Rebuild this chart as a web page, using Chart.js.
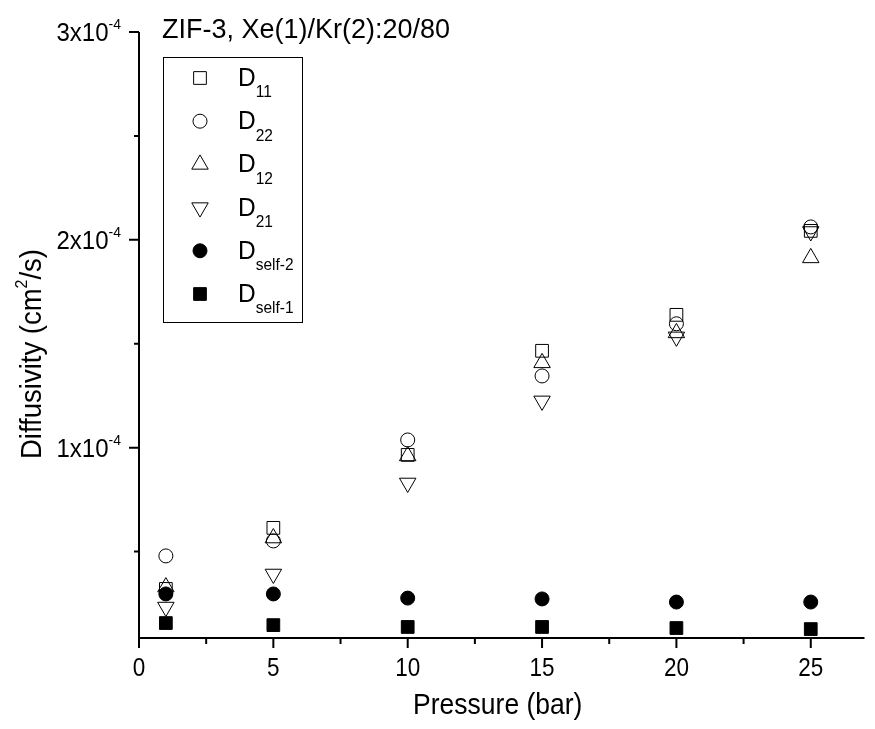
<!DOCTYPE html>
<html><head><meta charset="utf-8">
<script src="https://cdn.jsdelivr.net/npm/chart.js@4/dist/chart.umd.min.js"></script>
<style>html,body{margin:0;padding:0;background:#fff}</style></head>
<body><canvas id="c" width="875" height="729"></canvas>
<script>
// ---- data ----
const pressure = [1, 5, 10, 15, 20, 25];
const D11    = [0.320e-4, 0.614e-4, 0.965e-4, 1.466e-4, 1.639e-4, 2.043e-4];
const D22    = [0.479e-4, 0.551e-4, 1.037e-4, 1.345e-4, 1.596e-4, 2.062e-4];
const D12    = [0.329e-4, 0.565e-4, 0.960e-4, 1.408e-4, 1.552e-4, 1.913e-4];
const D21    = [0.233e-4, 0.392e-4, 0.830e-4, 1.225e-4, 1.533e-4, 2.040e-4];
const Dself2 = [0.296e-4, 0.296e-4, 0.276e-4, 0.272e-4, 0.257e-4, 0.257e-4];
const Dself1 = [0.156e-4, 0.146e-4, 0.137e-4, 0.137e-4, 0.132e-4, 0.127e-4];
const xMajor = [0, 5, 10, 15, 20, 25];
const xMinor = [2.5, 7.5, 12.5, 17.5, 22.5];
const yMajor = [1e-4, 2e-4, 3e-4];
const yMajorMant = ['1', '2', '3'];
const yMinor = [0.5e-4, 1.5e-4, 2.5e-4];
const titleText = 'ZIF-3, Xe(1)/Kr(2):20/80';
const xTitle = 'Pressure (bar)';

const FONT = '"Liberation Sans", Arial, sans-serif';
const series = [
  {name:'11', data:D11, style:'rect', r:9, rot:0, fill:false},
  {name:'22', data:D22, style:'circle', r:7, rot:0, fill:false},
  {name:'12', data:D12, style:'triangle', r:9.5, rot:0, fill:false},
  {name:'21', data:D21, style:'triangle', r:9.5, rot:180, fill:false},
  {name:'self-2', data:Dself2, style:'circle', r:7, rot:0, fill:true},
  {name:'self-1', data:Dself1, style:'rect', r:9, rot:0, fill:true}
];

function pts(arr){ return pressure.map((p,i)=>({x:p, y:arr[i]})); }

const datasets = series.map(s => ({
  label: 'D' + s.name,
  data: pts(s.data),
  showLine: false,
  pointStyle: s.style,
  pointRadius: s.r,
  pointHoverRadius: s.r,
  pointRotation: s.rot,
  borderColor: '#000',
  backgroundColor: s.fill ? '#000' : 'rgba(0,0,0,0)',
  borderWidth: 1,
  order: s.fill ? 0 : 1
}));

// rich text with an optional vertical stretch (sy)
function richText(ctx, x, y, parts, align, sy){
  sy = sy || 1;
  let total = 0;
  parts.forEach(p => { ctx.font = p.size + 'px ' + FONT; total += ctx.measureText(p.t).width; });
  let cx = align === 'right' ? x - total : (align === 'center' ? x - total/2 : x);
  ctx.save();
  ctx.translate(0, y);
  ctx.scale(1, sy);
  parts.forEach(p => {
    ctx.font = p.size + 'px ' + FONT;
    ctx.textAlign = 'left';
    ctx.fillText(p.t, cx, (p.dy||0));
    cx += ctx.measureText(p.t).width;
  });
  ctx.restore();
}

const deco = {
  id: 'deco',
  afterDraw(chart){
    const ctx = chart.ctx;
    const xs = chart.scales.x, ys = chart.scales.y;
    const a = chart.chartArea;
    ctx.save();
    ctx.strokeStyle = '#000'; ctx.fillStyle = '#000';
    ctx.lineWidth = 2;
    // axis lines
    ctx.beginPath();
    ctx.moveTo(a.left, ys.getPixelForValue(3e-4));
    ctx.lineTo(a.left, a.bottom);
    ctx.lineTo(a.right, a.bottom);
    ctx.stroke();
    // x ticks
    ctx.beginPath();
    xMajor.forEach(v => { const px = xs.getPixelForValue(v); ctx.moveTo(px, a.bottom); ctx.lineTo(px, a.bottom + 10); });
    xMinor.forEach(v => { const px = xs.getPixelForValue(v); ctx.moveTo(px, a.bottom); ctx.lineTo(px, a.bottom + 6); });
    // y ticks
    yMajor.forEach(v => { const py = ys.getPixelForValue(v); ctx.moveTo(a.left, py); ctx.lineTo(a.left - 10, py); });
    yMinor.forEach(v => { const py = ys.getPixelForValue(v); ctx.moveTo(a.left, py); ctx.lineTo(a.left - 5, py); });
    ctx.stroke();
    ctx.textBaseline = 'alphabetic';
    // x tick labels
    xMajor.forEach(v => {
      richText(ctx, xs.getPixelForValue(v), a.bottom + 38, [{t: String(v), size: 22.5}], 'center', 1.12);
    });
    // y tick labels
    yMajor.forEach((v,i) => {
      const py = ys.getPixelForValue(v);
      richText(ctx, a.left - 18, py + 9, [
        {t: yMajorMant[i] + 'x10', size: 24},
        {t: '-4', size: 14, dy: -11}
      ], 'right', 1.08);
    });
    // axis titles
    richText(ctx, (a.left + a.right)/2 - 4, 714, [{t: xTitle, size: 26.5}], 'center', 1.08);
    ctx.save();
    ctx.translate(41, 354);
    ctx.rotate(-Math.PI/2);
    ctx.scale(1, 1.08);
    richText(ctx, 0, 0, [
      {t: 'Diffusivity (cm', size: 27.5},
      {t: '2', size: 16, dy: -13},
      {t: '/s)', size: 27.5}
    ], 'center');
    ctx.restore();
    // title
    richText(ctx, 162, 38, [{t: titleText, size: 27}], 'left', 1.05);
    // legend box
    ctx.lineWidth = 1;
    ctx.strokeRect(163.5, 57.5, 139, 265);
    series.forEach((s, i) => {
      const base = 86 + i * 43.2;
      ctx.fillStyle = s.fill ? '#000' : 'rgba(0,0,0,0)';
      ctx.strokeStyle = '#000';
      ctx.lineWidth = 1;
      Chart.helpers.drawPoint(ctx, {pointStyle: s.style, radius: s.r, rotation: s.rot, borderWidth: 1}, 200, base - 8);
      ctx.fillStyle = '#000';
      richText(ctx, 238, base, [
        {t: 'D', size: 24.5},
        {t: s.name, size: 15.5, dy: 10.5}
      ], 'left', 1.08);
    });
    ctx.restore();
  }
};

new Chart(document.getElementById('c'), {
  type: 'scatter',
  data: { datasets },
  options: {
    responsive: false,
    devicePixelRatio: 1,
    animation: false,
    layout: { padding: { left: 139, top: 32, right: 10, bottom: 91 } },
    scales: {
      x: { type: 'linear', display: false, min: 0, max: 27 },
      y: { type: 'linear', display: false, min: 0.084e-4, max: 3e-4 }
    },
    plugins: { legend: { display: false }, tooltip: { enabled: false } }
  },
  plugins: [deco]
});
</script>
</body></html>
